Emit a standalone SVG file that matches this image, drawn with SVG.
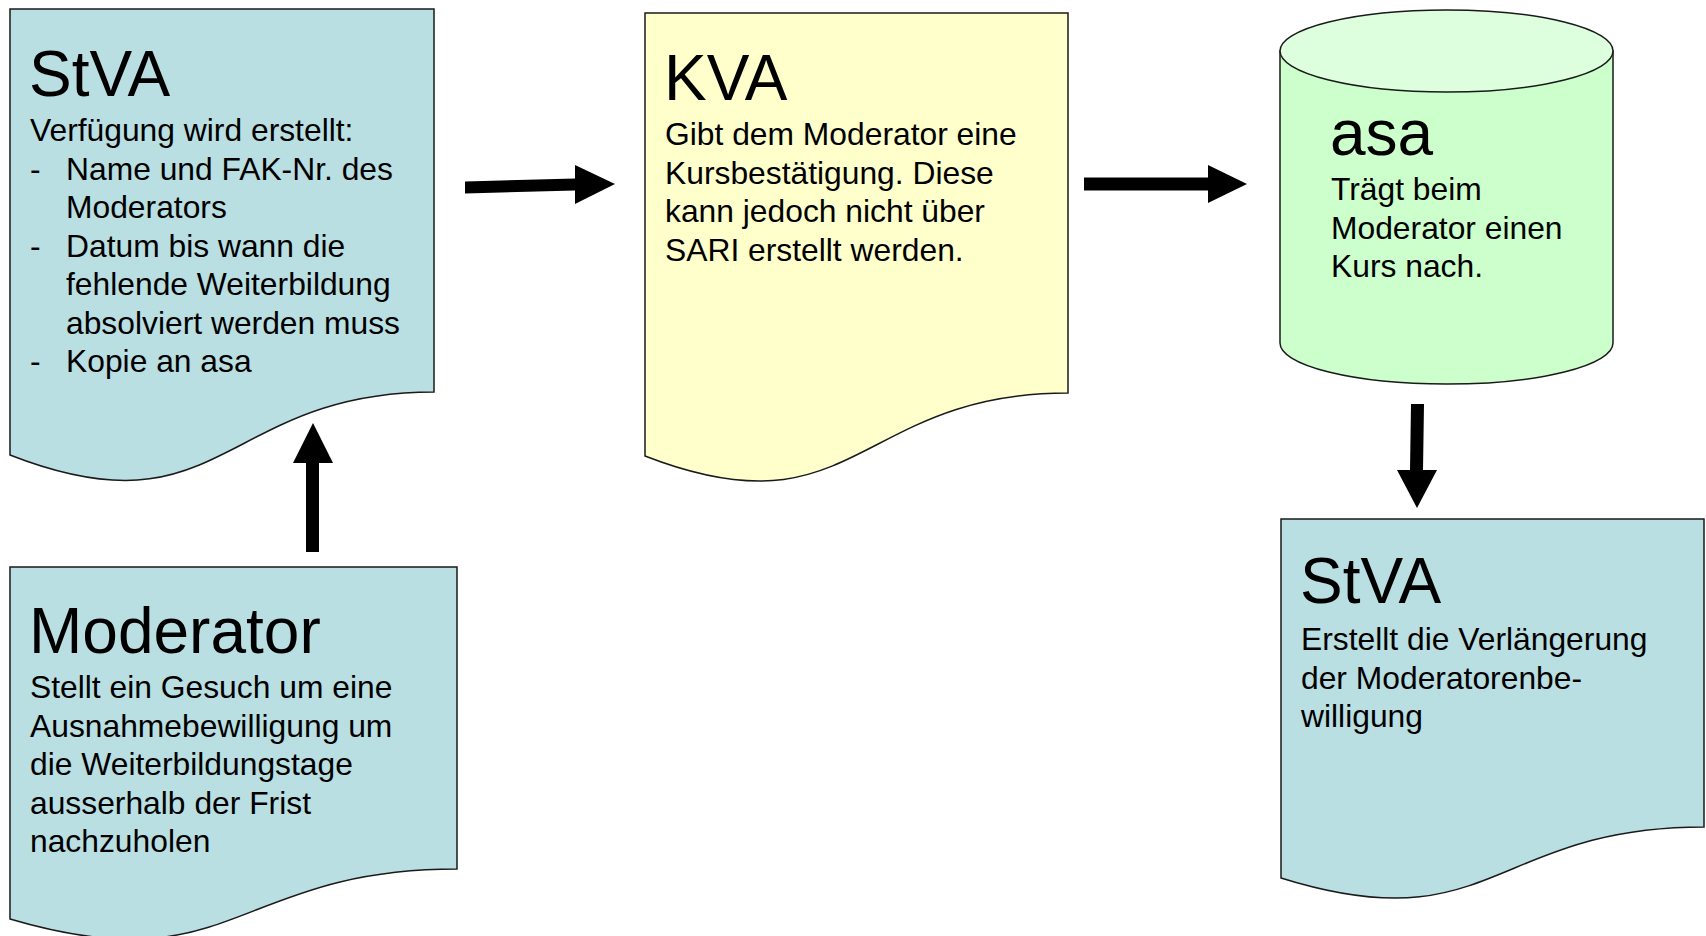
<svg xmlns="http://www.w3.org/2000/svg" width="1706" height="936" viewBox="0 0 1706 936">
<style>
.doc{fill:#B9DFE2;stroke:#1a1a1a;stroke-width:1.5}
.kva{fill:#FFFFCC;stroke:#1a1a1a;stroke-width:1.5}
.cylb{fill:#CCFFCC;stroke:#1a1a1a;stroke-width:1.5}
.cylt{fill:#DDFFDD;stroke:#1a1a1a;stroke-width:1.5}
text{font-family:"Liberation Sans",Arial,sans-serif;fill:#000}
.t{font-size:64px}
.b{font-size:31.8px}
.arr{fill:#000}
</style>
<rect width="1706" height="936" fill="#fff"/>
<g id="node-stva1">
<path class="doc" d="M10,9 H434 V392 C222,392 222,538 10,455 Z"/>
<text class="t" x="29" y="96">StVA</text>
<text class="b" x="30" y="141">Verfügung wird erstellt:</text>
<text class="b" x="30" y="179.5">-</text><text class="b" x="66" y="179.5">Name und FAK-Nr. des</text>
<text class="b" x="66" y="218">Moderators</text>
<text class="b" x="30" y="256.5">-</text><text class="b" x="66" y="256.5">Datum bis wann die</text>
<text class="b" x="66" y="295">fehlende Weiterbildung</text>
<text class="b" x="66" y="333.5">absolviert werden muss</text>
<text class="b" x="30" y="372">-</text><text class="b" x="66" y="372">Kopie an asa</text>
</g>
<g id="node-kva">
<path class="kva" d="M645,13 H1068 V393 C856,393 856,538 645,456 Z"/>
<text class="t" x="664" y="100">KVA</text>
<text class="b" x="665" y="145">Gibt dem Moderator eine</text>
<text class="b" x="665" y="183.5">Kursbestätigung. Diese</text>
<text class="b" x="665" y="222">kann jedoch nicht über</text>
<text class="b" x="665" y="260.5">SARI erstellt werden.</text>
</g>
<g id="node-asa">
<path class="cylb" d="M1280,51 V343 A166.5,41 0 0 0 1613,343 V51 Z"/>
<ellipse class="cylt" cx="1446.5" cy="51" rx="166.5" ry="41"/>
<text class="t" x="1330" y="155">asa</text>
<text class="b" x="1331" y="200">Trägt beim</text>
<text class="b" x="1331" y="238.5">Moderator einen</text>
<text class="b" x="1331" y="277">Kurs nach.</text>
</g>
<g id="node-moderator">
<path class="doc" d="M10,567 H457 V869 C233,869 233,985 10,919 Z"/>
<text class="t" x="29" y="653">Moderator</text>
<text class="b" x="30" y="698">Stellt ein Gesuch um eine</text>
<text class="b" x="30" y="736.5">Ausnahmebewilligung um</text>
<text class="b" x="30" y="775">die Weiterbildungstage</text>
<text class="b" x="30" y="813.5">ausserhalb der Frist</text>
<text class="b" x="30" y="852">nachzuholen</text>
</g>
<g id="node-stva2">
<path class="doc" d="M1281,519 H1704 V827 C1492,827 1492,944 1281,878 Z"/>
<text class="t" x="1300" y="603">StVA</text>
<text class="b" x="1301" y="650">Erstellt die Verlängerung</text>
<text class="b" x="1301" y="688.5">der Moderatorenbe-</text>
<text class="b" x="1301" y="727">willigung</text>
</g>
<g id="connectors">
<polygon class="arr" points="465,181.5 575,178.5 575,165 615,184 575,204 575,190.5 465,193.5"/>
<polygon class="arr" points="1084,177.5 1208,177.5 1208,165 1247,184 1208,203 1208,190.5 1084,190.5"/>
<polygon class="arr" points="1411,404 1424,404 1423,470 1437,470 1417,508 1397,470 1410,470"/>
<polygon class="arr" points="306,552 319,552 319,463 333,463 313,423 293,463 306,463"/>
</g>
</svg>
